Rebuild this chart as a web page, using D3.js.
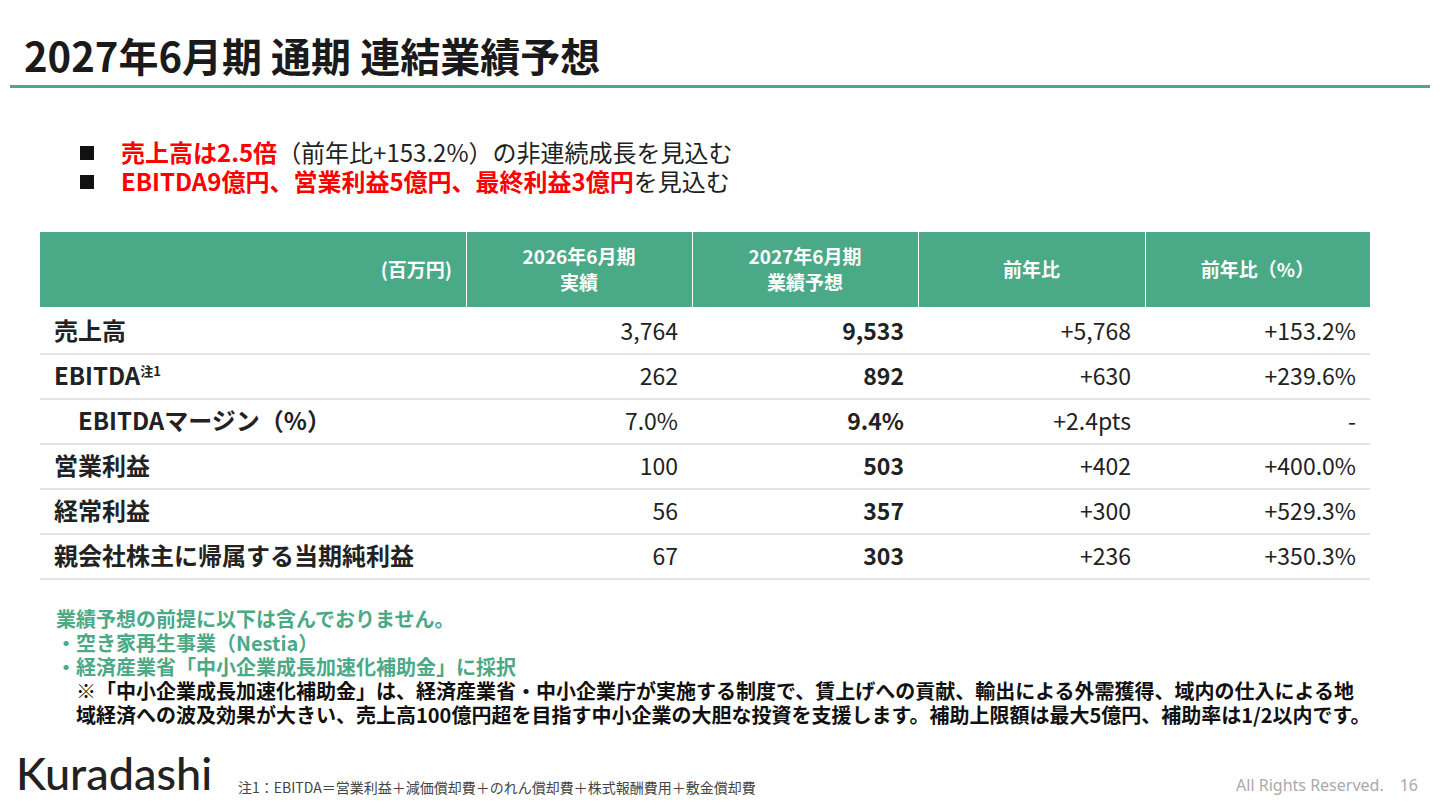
<!DOCTYPE html>
<html>
<head>
<meta charset="utf-8">
<script src="https://d3js.org/d3.v7.min.js"></script>
<style>
  body { margin: 0; background: #fff; }
  svg { font-family: "Noto Sans CJK JP", "Noto Sans", sans-serif; }
</style>
</head>
<body>
<svg id="chart" width="1440" height="810"></svg>
<script>
const headers = ["(百万円)", "2026年6月期\n実績", "2027年6月期\n業績予想", "前年比", "前年比（%）"];
const rowLabels = ["売上高", "EBITDA", "EBITDAマージン（%）", "営業利益", "経常利益", "親会社株主に帰属する当期純利益"];
const actual2026 = ["3,764", "262", "7.0%", "100", "56", "67"];
const forecast2027 = ["9,533", "892", "9.4%", "503", "357", "303"];
const diffYoY = ["+5,768", "+630", "+2.4pts", "+402", "+300", "+236"];
const pctYoY = ["+153.2%", "+239.6%", "-", "+400.0%", "+529.3%", "+350.3%"];

const green = "#4aa986";
const svg = d3.select("#chart");

// title
svg.append("text").attr("x", 24).attr("y", 72).attr("font-size", 40).attr("font-weight", 700)
  .attr("fill", "#1a1a1a").text("2027年6月期 通期 連結業績予想");
svg.append("rect").attr("x", 10).attr("y", 85).attr("width", 1420).attr("height", 3).attr("fill", green);

// bullets
const bullets = [
  [["売上高は2.5倍", "red"], ["（前年比+153.2%）の非連続成長を見込む", "#222"]],
  [["EBITDA9億円、営業利益5億円、最終利益3億円", "red"], ["を見込む", "#222"]]
];
bullets.forEach((b, i) => {
  const y = 162 + i * 29;
  svg.append("rect").attr("x", 80).attr("y", y - 16).attr("width", 14).attr("height", 14).attr("fill", "#111");
  const t = svg.append("text").attr("x", 121).attr("y", y).attr("font-size", 24);
  b.forEach(([s, c]) => t.append("tspan").attr("fill", c).attr("font-weight", c === "red" ? 700 : 400).text(s));
});

// table
const colEdges = [40, 466, 692, 918, 1145, 1370];
const headTop = 232, headH = 75, rowTop = 309, rowH = 45;
const y = d3.scaleBand().domain(d3.range(rowLabels.length)).range([rowTop, rowTop + rowH * rowLabels.length]);

svg.selectAll("rect.head").data(headers).join("rect")
  .attr("x", (d, i) => colEdges[i] + (i ? 1 : 0)).attr("y", headTop)
  .attr("width", (d, i) => colEdges[i + 1] - colEdges[i] - (i ? 1 : 0)).attr("height", headH).attr("fill", green);
headers.forEach((h, i) => {
  const lines = h.split("\n");
  const cx = i === 0 ? colEdges[1] - 14 : (colEdges[i] + colEdges[i + 1]) / 2;
  const t = svg.append("text").attr("fill", "#fff").attr("font-size", 19).attr("font-weight", 700)
    .attr("text-anchor", i === 0 ? "end" : "middle");
  lines.forEach((l, k) => t.append("tspan").attr("x", cx)
    .attr("y", headTop + headH / 2 + 7 + (k - (lines.length - 1) / 2) * 26).text(l));
});

// row separators
svg.selectAll("line.sep").data(d3.range(rowLabels.length)).join("line")
  .attr("x1", colEdges[0]).attr("x2", colEdges[5])
  .attr("y1", d => y(d) + rowH).attr("y2", d => y(d) + rowH)
  .attr("stroke", "#c8c8c8").attr("stroke-width", 1);

const rows = svg.selectAll("g.row").data(rowLabels).join("g")
  .attr("transform", (d, i) => `translate(0,${y(i) + rowH / 2 + 8})`);
rows.append("text").attr("x", (d, i) => i === 2 ? 78 : 54).attr("font-size", 24).attr("font-weight", 700).attr("fill", "#222")
  .each(function (d, i) {
    d3.select(this).append("tspan").text(d);
    if (i === 1) d3.select(this).append("tspan").attr("font-size", 13).attr("dy", -9).text("注1");
  });
const cols = [[actual2026, 400], [forecast2027, 700], [diffYoY, 400], [pctYoY, 400]];
cols.forEach(([arr, w], c) => {
  rows.append("text").attr("x", colEdges[c + 2] - 14).attr("text-anchor", "end")
    .attr("font-size", 23).attr("font-weight", w).attr("fill", "#222").text((d, i) => arr[i]);
});

// notes
const notes = [
  ["業績予想の前提に以下は含んでおりません。", green, 56],
  ["・空き家再生事業（Nestia）", green, 56],
  ["・経済産業省「中小企業成長加速化補助金」に採択", green, 56],
  ["※「中小企業成長加速化補助金」は、経済産業省・中小企業庁が実施する制度で、賃上げへの貢献、輸出による外需獲得、域内の仕入による地", "#111", 76],
  ["域経済への波及効果が大きい、売上高100億円超を目指す中小企業の大胆な投資を支援します。補助上限額は最大5億円、補助率は1/2以内です。", "#111", 76]
];
notes.forEach(([s, c, x], i) => svg.append("text").attr("x", x).attr("y", 627 + i * 24)
  .attr("font-size", 20).attr("font-weight", 700).attr("fill", c).text(s));

// footer
svg.append("text").attr("x", 16).attr("y", 790).attr("font-family", "Lato, 'Noto Sans', sans-serif")
  .attr("font-size", 45).attr("font-weight", 500).attr("fill", "#222").text("Kuradashi");
svg.append("text").attr("x", 238).attr("y", 793).attr("font-size", 14).attr("fill", "#444")
  .text("注1：EBITDA＝営業利益＋減価償却費＋のれん償却費＋株式報酬費用＋敷金償却費");
svg.append("text").attr("x", 1418).attr("y", 791).attr("text-anchor", "end").attr("font-size", 16).attr("fill", "#aaa")
  .attr("font-family", "'Noto Sans', sans-serif").text("All Rights Reserved.　16");
</script>
</body>
</html>
